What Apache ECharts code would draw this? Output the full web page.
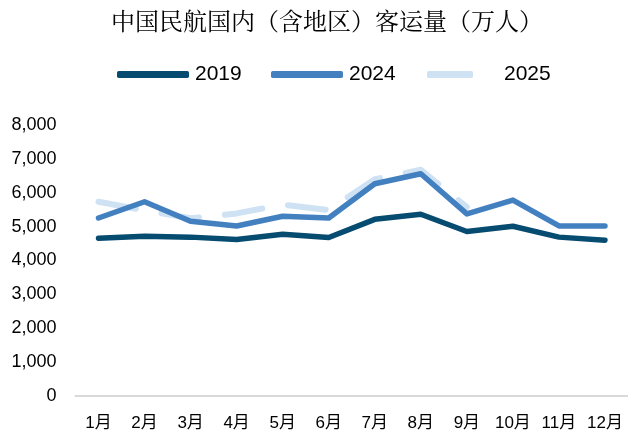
<!DOCTYPE html>
<html>
<head>
<meta charset="utf-8">
<script src="https://cdn.jsdelivr.net/npm/echarts@6/dist/echarts.min.js"></script>
<style>
  html, body { margin: 0; padding: 0; background: #fff; }
  #chart { width: 628px; height: 437px; }
</style>
</head>
<body>
<div id="chart"></div>
<script>
// 月份
var months = ['1月', '2月', '3月', '4月', '5月', '6月', '7月', '8月', '9月', '10月', '11月', '12月'];
// 各年客运量（万人）
var data2019 = [4660, 4715, 4690, 4620, 4775, 4680, 5215, 5365, 4855, 5010, 4690, 4600];
var data2024 = [5255, 5735, 5160, 5020, 5305, 5255, 6265, 6560, 5375, 5785, 5020, 5020];
var data2025 = [5735, 5480, 5245, 5390, 5650, 5490, 6400, 6680, 5580];
var yTicks = [0, 1000, 2000, 3000, 4000, 5000, 6000, 7000, 8000];

var latin = 'Liberation Sans, Arial, Noto Sans CJK SC, sans-serif';
var cjk = 'Noto Serif CJK SC, Noto Sans CJK SC, serif';

var chart = echarts.init(document.getElementById('chart'));

function legendItem(name, left, extra) {
    return Object.assign({
        data: [name],
        left: left,
        top: 59,
        icon: 'roundRect',
        itemWidth: 72,
        itemHeight: 7,
        itemGap: 0,
        selectedMode: false,
        textStyle: { fontSize: 21, color: '#000', fontFamily: latin, padding: [0, 0, 0, 1] }
    }, extra || {});
}

var option = {
    animation: false,
    title: {
        text: '中国民航国内（含地区）客运量（万人）',
        left: 322,
        textAlign: 'center',
        top: 4,
        textStyle: { fontSize: 24, fontWeight: 'normal', color: '#000', fontFamily: cjk }
    },
    legend: [
        legendItem('2019', 112),
        legendItem('2024', 266),
        legendItem('2025', 422, {
            itemWidth: 46,
            textStyle: { fontSize: 21, color: '#000', fontFamily: latin, padding: [0, 0, 0, 26] }
        })
    ],
    grid: { left: 75.5, right: -4, top: 125, bottom: 41 },
    xAxis: {
        type: 'category',
        data: months,
        boundaryGap: true,
        axisLine: { lineStyle: { color: '#D9D9D9', width: 2 } },
        axisTick: { inside: true, length: 5, lineStyle: { color: '#D9D9D9', width: 1.5 } },
        axisLabel: { fontSize: 17, color: '#000', margin: 19, fontFamily: latin, interval: 0, hideOverlap: false }
    },
    yAxis: {
        type: 'value',
        min: yTicks[0],
        max: yTicks[yTicks.length - 1],
        interval: 1000,
        splitLine: { show: false },
        axisLine: { show: false },
        axisTick: { show: false },
        axisLabel: {
            fontSize: 18,
            color: '#000',
            margin: 19,
            fontFamily: latin,
            formatter: function (v) { return v.toLocaleString('en-US'); }
        }
    },
    series: [
        {
            name: '2019',
            type: 'line',
            data: data2019,
            showSymbol: false,
            z: 3,
            color: '#064B70',
            lineStyle: { width: 5.5, color: '#064B70', cap: 'round', join: 'round' }
        },
        {
            name: '2024',
            type: 'line',
            data: data2024,
            showSymbol: false,
            z: 3,
            color: '#4380C0',
            lineStyle: { width: 5.5, color: '#4380C0', cap: 'round', join: 'round' }
        },
        {
            name: '2025',
            type: 'line',
            data: data2025,
            showSymbol: false,
            z: 2,
            color: '#CFE2F3',
            lineStyle: { width: 6, color: '#CFE2F3', type: [38, 26], cap: 'round', join: 'round' }
        }
    ]
};

chart.setOption(option);
</script>
</body>
</html>
